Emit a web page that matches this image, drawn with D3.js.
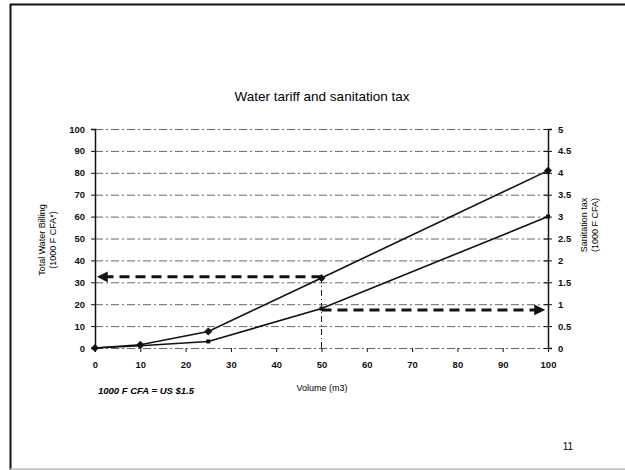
<!DOCTYPE html>
<html><head><meta charset="utf-8">
<script src="https://cdn.jsdelivr.net/npm/d3@7"></script>
<style>
body{margin:0;background:#fff;}
svg{display:block;font-family:"Liberation Sans",Arial,sans-serif;}
</style></head>
<body>
<svg id="c" width="625" height="470"></svg>
<script>
const volumes = [0, 10, 25, 50, 100];
const waterBilling = [0, 1.5, 7.5, 32, 81];
const sanitationTax = [0, 0.05, 0.15, 0.9, 3];
const xTicks = [0,10,20,30,40,50,60,70,80,90,100];
const leftTicks = [0,10,20,30,40,50,60,70,80,90,100];
const rightTicks = [0,0.5,1,1.5,2,2.5,3,3.5,4,4.5,5];
const guideVolume = 50;
const guideWater = 32.5;
const guideSanitation = 0.87;

const svg = d3.select("#c");
const L = 95, R = 548, T = 129, B = 348;
const x = d3.scaleLinear().domain([0,100]).range([L,R]);
const yL = d3.scaleLinear().domain([0,100]).range([B,T]);
const yR = d3.scaleLinear().domain([0,5]).range([B,T]);

// slide frame
svg.append("line").attr("x1",10).attr("x2",625).attr("y1",4.5).attr("y2",4.5).attr("stroke","#111").attr("stroke-width",2);
svg.append("line").attr("x1",10.5).attr("x2",10.5).attr("y1",4).attr("y2",470).attr("stroke","#111").attr("stroke-width",2);
svg.append("line").attr("x1",10).attr("x2",625).attr("y1",469).attr("y2",469).attr("stroke","#bbb").attr("stroke-width",1.5);

// title
svg.append("text").attr("x",322).attr("y",101).attr("text-anchor","middle")
  .attr("font-size",13.5).text("Water tariff and sanitation tax");

// gridlines
svg.append("g").selectAll("line").data(leftTicks).join("line")
  .attr("x1",L).attr("x2",R).attr("y1",d=>yL(d)+0.5).attr("y2",d=>yL(d)+0.5)
  .attr("stroke","#666").attr("stroke-width",1).attr("stroke-dasharray","8,3,2,3");

// axes
const gx = svg.append("g").attr("transform",`translate(0,${B})`)
  .call(d3.axisBottom(x).tickValues(xTicks).tickSize(4).tickPadding(9).tickFormat(d3.format("d")));
const gl = svg.append("g").attr("transform",`translate(${L},0)`)
  .call(d3.axisLeft(yL).tickValues(leftTicks).tickSize(4).tickPadding(6).tickFormat(d3.format("d")));
const gr = svg.append("g").attr("transform",`translate(${R},0)`)
  .call(d3.axisRight(yR).tickValues(rightTicks).tickSize(4).tickPadding(6).tickFormat(d=>String(d)));
gr.selectAll(".tick line").attr("x1",-4);
gx.select(".domain").remove();
[gx,gl,gr].forEach(g=>{
  g.selectAll("text").attr("font-size",9.5).attr("font-weight","bold").attr("fill","#111")
   .attr("font-family","\"Liberation Sans\",Arial,sans-serif");
  g.selectAll("line,path").attr("stroke","#111");
});
gl.select(".domain").attr("stroke-width",1.5);
gr.select(".domain").attr("stroke-width",1.5);

// axis titles
svg.append("text").attr("transform","translate(45,240) rotate(-90)").attr("text-anchor","middle")
  .attr("font-size",9).text("Total Water Billing");
svg.append("text").attr("transform","translate(56,240) rotate(-90)").attr("text-anchor","middle")
  .attr("font-size",9).text("(1000 F CFA*)");
svg.append("text").attr("transform","translate(587,225) rotate(-90)").attr("text-anchor","middle")
  .attr("font-size",9).text("Sanitation tax");
svg.append("text").attr("transform","translate(598,225) rotate(-90)").attr("text-anchor","middle")
  .attr("font-size",9).text("(1000 F CFA)");
svg.append("text").attr("x",322).attr("y",391).attr("text-anchor","middle")
  .attr("font-size",9).text("Volume (m3)");
svg.append("text").attr("x",98).attr("y",394).attr("font-size",9.5).attr("font-style","italic")
  .attr("font-weight","bold").text("1000 F CFA = US $1.5");
svg.append("text").attr("x",568).attr("y",450).attr("text-anchor","middle")
  .attr("font-size",10).text("11");

// guide lines
svg.append("line").attr("x1",x(guideVolume)).attr("x2",x(guideVolume))
  .attr("y1",yL(0)).attr("y2",yL(guideWater))
  .attr("stroke","#222").attr("stroke-width",1).attr("stroke-dasharray","6,3,1,3");
svg.append("defs").html(`
 <marker id="ah" viewBox="0 0 10 10" refX="9" refY="5" markerWidth="3.6" markerHeight="3.6" orient="auto">
   <path d="M0,0L10,5L0,10z" fill="#111"/></marker>`);
svg.append("line").attr("x1",x(guideVolume)).attr("x2",x(0)+3)
  .attr("y1",yL(guideWater)).attr("y2",yL(guideWater))
  .attr("stroke","#111").attr("stroke-width",3).attr("stroke-dasharray","10,6")
  .attr("marker-end","url(#ah)");
svg.append("line").attr("x1",x(guideVolume)).attr("x2",x(100)-4)
  .attr("y1",yR(guideSanitation)).attr("y2",yR(guideSanitation))
  .attr("stroke","#111").attr("stroke-width",3).attr("stroke-dasharray","10,6")
  .attr("marker-end","url(#ah)");

// series
const up = volumes.map((v,i)=>[x(v),yL(waterBilling[i])]);
const lo = volumes.map((v,i)=>[x(v),yR(sanitationTax[i])]);
svg.append("path").attr("d",d3.line()(up)).attr("fill","none").attr("stroke","#111").attr("stroke-width",1.6);
svg.append("path").attr("d",d3.line()(lo)).attr("fill","none").attr("stroke","#111").attr("stroke-width",1.6);
svg.append("g").selectAll("path").data(up).join("path")
  .attr("d",d3.symbol(d3.symbolDiamond2,40)())
  .attr("transform",d=>`translate(${d[0]},${d[1]})`).attr("fill","#111");
svg.append("g").selectAll("rect").data(lo).join("rect")
  .attr("x",d=>d[0]-2).attr("y",d=>d[1]-2).attr("width",4).attr("height",4).attr("fill","#111");
</script>
</body></html>
